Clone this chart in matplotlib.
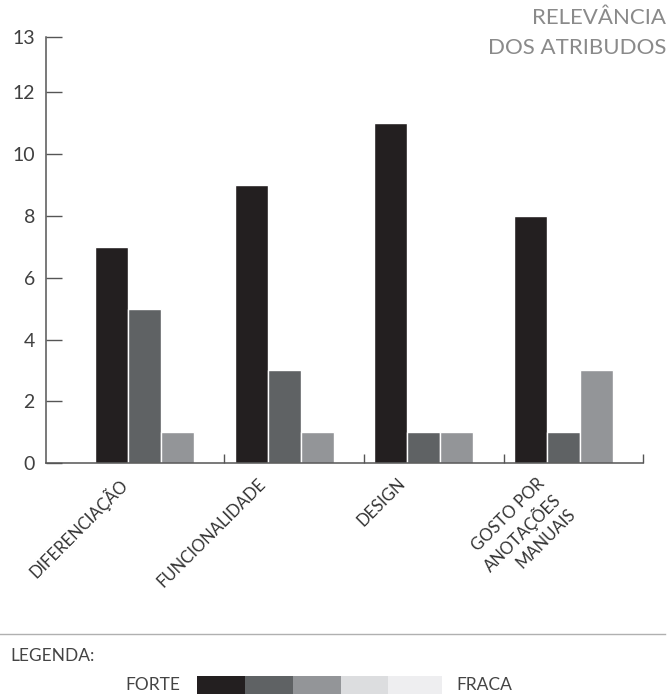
import matplotlib
matplotlib.use("Agg")
import matplotlib.pyplot as plt
from matplotlib.transforms import ScaledTranslation
import numpy as np

# --- data -------------------------------------------------------------
categories = ["DIFERENCIAÇÃO", "FUNCIONALIDADE", "DESIGN", "GOSTO POR\nANOTAÇÕES\nMANUAIS"]
forte = [7, 9, 11, 8]
media = [5, 3, 1, 1]
fraca = [1, 1, 1, 3]
y_tick_values = [0, 2, 4, 6, 8, 10, 12]
y_axis_top_label = "13"

legend_labels = ["FORTE", "FRACA"]
legend_colors = ["#231f20", "#5f6264", "#939598", "#dcdddf", "#eeeef0"]
legend_widths = [48, 48, 48, 47, 54]

title_lines = ["RELEVÂNCIA", "DOS ATRIBUDOS"]
legend_title = "LEGENDA:"

# --- style ------------------------------------------------------------
FONT = ["Lato", "DejaVu Sans"]
bar_colors = ["#231f20", "#5f6264", "#939598"]
axis_color = "#555555"
text_color = "#333333"

W, H = 669, 694
fig = plt.figure(figsize=(W / 100, H / 100), dpi=100)
fig.patch.set_facecolor("white")

# main axes placed in pixel terms
left, right, bottom, top = 46, 643.3, 463.3, 37.3
ax = fig.add_axes([left / W, (H - bottom) / H, (right - left) / W, (bottom - top) / H])

x = np.arange(len(categories))
step = 0.236
width = 0.236
series = [forte, media, fraca]
for k, (vals, col) in enumerate(zip(series, bar_colors)):
    ax.bar(x + (k - 1) * step, vals, width=width, color=col,
           edgecolor="white", linewidth=1.0, zorder=2)

y_top = 13.77
ax.set_ylim(0, y_top)
ax.set_xlim(-0.705, 3.571)

# y axis: ticks point into the plot, the top tick closes the axis
ax.set_yticks(y_tick_values + [y_top])
ax.set_yticklabels([str(v) for v in y_tick_values] + [y_axis_top_label],
                   fontfamily=FONT, fontsize=14, color="#404040")
ax.tick_params(axis="y", direction="in", length=11.5, width=1.0, color=axis_color, pad=8)

# x axis: small separators between groups
ax.set_xticks(x + 0.571)
ax.set_xticklabels([])
ax.tick_params(axis="x", direction="in", length=6.5, width=1.0, color=axis_color)

for side in ["top", "right"]:
    ax.spines[side].set_visible(False)
for side in ["left", "bottom"]:
    ax.spines[side].set_color(axis_color)
    ax.spines[side].set_linewidth(1.1)

# rotated category labels
offset = ScaledTranslation(-0.27, -0.12, fig.dpi_scale_trans)
for xi, lab in zip(x, categories):
    ax.text(xi, 0, lab, transform=ax.transData + offset, rotation=45,
            rotation_mode="anchor", ha="right", va="top", multialignment="right",
            fontfamily=FONT, fontsize=12, color=text_color, linespacing=1.3)

# title in the upper right corner
fig.text(666 / W, 1 - 18 / H, title_lines[0], ha="right", va="center",
         fontfamily=FONT, fontsize=16, color="#8a8a8a")
fig.text(666 / W, 1 - 48 / H, title_lines[1], ha="right", va="center",
         fontfamily=FONT, fontsize=16, color="#8a8a8a")

# separator line above the legend
fig.add_artist(plt.Line2D([0, 665 / W], [1 - 634 / H, 1 - 634 / H],
                          transform=fig.transFigure, color="#b0b0b0", linewidth=1.0))

fig.text(10 / W, 1 - 656 / H, legend_title, ha="left", va="center",
         fontfamily=FONT, fontsize=12.5, color="#444444")

# intensity scale strip
lx0, ly0 = 197, 676
total = sum(legend_widths)
lax = fig.add_axes([lx0 / W, 0, total / W, (H - ly0) / H])
lefts = np.concatenate([[0], np.cumsum(legend_widths)[:-1]])
lax.barh([0], legend_widths, left=lefts, color=legend_colors, height=1.0, linewidth=0)
lax.set_xlim(0, total)
lax.set_ylim(-0.5, 0.5)
lax.axis("off")

fig.text(180 / W, 1 - 685 / H, legend_labels[0], ha="right", va="center",
         fontfamily=FONT, fontsize=12.5, color="#444444")
fig.text(456 / W, 1 - 685 / H, legend_labels[1], ha="left", va="center",
         fontfamily=FONT, fontsize=12.5, color="#444444")

fig.savefig("out.png", dpi=100, facecolor="white")
